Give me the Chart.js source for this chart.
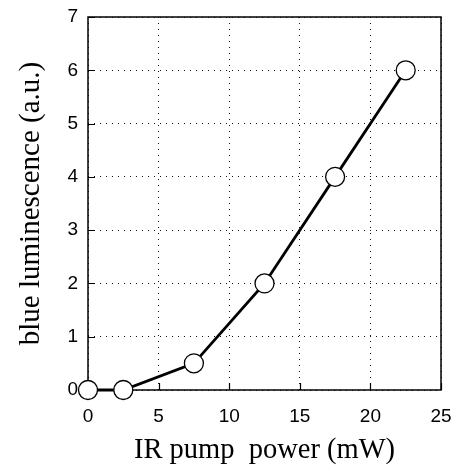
<!DOCTYPE html>
<html>
<head>
<meta charset="utf-8">
<script src="https://cdn.jsdelivr.net/npm/chart.js@4"></script>
<style>
  html, body { margin: 0; padding: 0; background: #fff; }
  canvas { display: block; }
</style>
</head>
<body>
<canvas id="lumChart" width="456" height="466"></canvas>
<script>
// values
const pumpPower = [0, 2.5, 7.5, 12.5, 17.5, 22.5];
const blueLum = [0, 0, 0.5, 2, 4, 6];
const xTicks = [0, 5, 10, 15, 20, 25];
const yTicks = [0, 1, 2, 3, 4, 5, 6, 7];

const points = pumpPower.map((x, i) => ({ x: x, y: blueLum[i] }));

// box around the plot and short inward ticks on left / bottom
const framePlugin = {
  id: "frame",
  beforeDatasetsDraw(chart) {
    const { ctx, chartArea: a, scales } = chart;
    ctx.save();
    ctx.strokeStyle = "#000";
    ctx.lineWidth = 1.5;
    ctx.strokeRect(a.left, a.top, a.right - a.left, a.bottom - a.top);
    ctx.lineWidth = 1.2;
    ctx.beginPath();
    xTicks.forEach((v) => {
      const px = Math.round(scales.x.getPixelForValue(v)) + 0.5;
      ctx.moveTo(px, a.bottom);
      ctx.lineTo(px, a.bottom - 7);
    });
    yTicks.forEach((v) => {
      const py = Math.round(scales.y.getPixelForValue(v)) + 0.5;
      ctx.moveTo(a.left, py);
      ctx.lineTo(a.left + 7, py);
    });
    ctx.stroke();
    ctx.restore();
  },
};

new Chart(document.getElementById("lumChart"), {
  type: "scatter",
  data: {
    datasets: [
      {
        data: points,
        showLine: true,
        clip: false,
        borderColor: "#000",
        borderWidth: 2.8,
        pointRadius: 9.5,
        pointHoverRadius: 9.5,
        pointBackgroundColor: "#fff",
        pointBorderColor: "#000",
        pointBorderWidth: 1.3,
        tension: 0,
      },
    ],
  },
  options: {
    responsive: false,
    animation: false,
    layout: { padding: { left: 0, top: 17, right: 15, bottom: 0 } },
    plugins: {
      legend: { display: false },
      tooltip: { enabled: false },
    },
    scales: {
      x: {
        type: "linear",
        min: 0,
        max: 25,
        afterBuildTicks: (scale) => {
          scale.ticks = xTicks.map((v) => ({ value: v }));
        },
        afterFit: (scale) => {
          scale.height = 76;
          scale.paddingLeft = 0;
          scale.paddingRight = 0;
        },
        grid: { color: "#111", lineWidth: 1, drawTicks: false },
        border: { display: false, dash: [1, 5] },
        ticks: {
          color: "#000",
          padding: 15,
          maxRotation: 0,
          font: { family: "Liberation Sans", size: 19 },
        },
        title: {
          display: true,
          text: "IR pump  power (mW)",
          color: "#000",
          padding: { top: 0, bottom: -2 },
          font: { family: "Liberation Serif", size: 28.5 },
        },
      },
      y: {
        type: "linear",
        min: 0,
        max: 7,
        afterBuildTicks: (scale) => {
          scale.ticks = yTicks.map((v) => ({ value: v }));
        },
        afterFit: (scale) => {
          scale.width = 88;
          scale.paddingTop = 0;
          scale.paddingBottom = 0;
        },
        grid: { color: "#111", lineWidth: 1, drawTicks: false },
        border: { display: false, dash: [1, 5] },
        ticks: {
          color: "#000",
          padding: 10,
          font: { family: "Liberation Sans", size: 19 },
        },
        title: {
          display: true,
          text: "blue luminescence (a.u.)",
          color: "#000",
          padding: { top: 14, bottom: 0 },
          font: { family: "Liberation Serif", size: 29 },
        },
      },
    },
  },
  plugins: [framePlugin],
});
</script>
</body>
</html>
